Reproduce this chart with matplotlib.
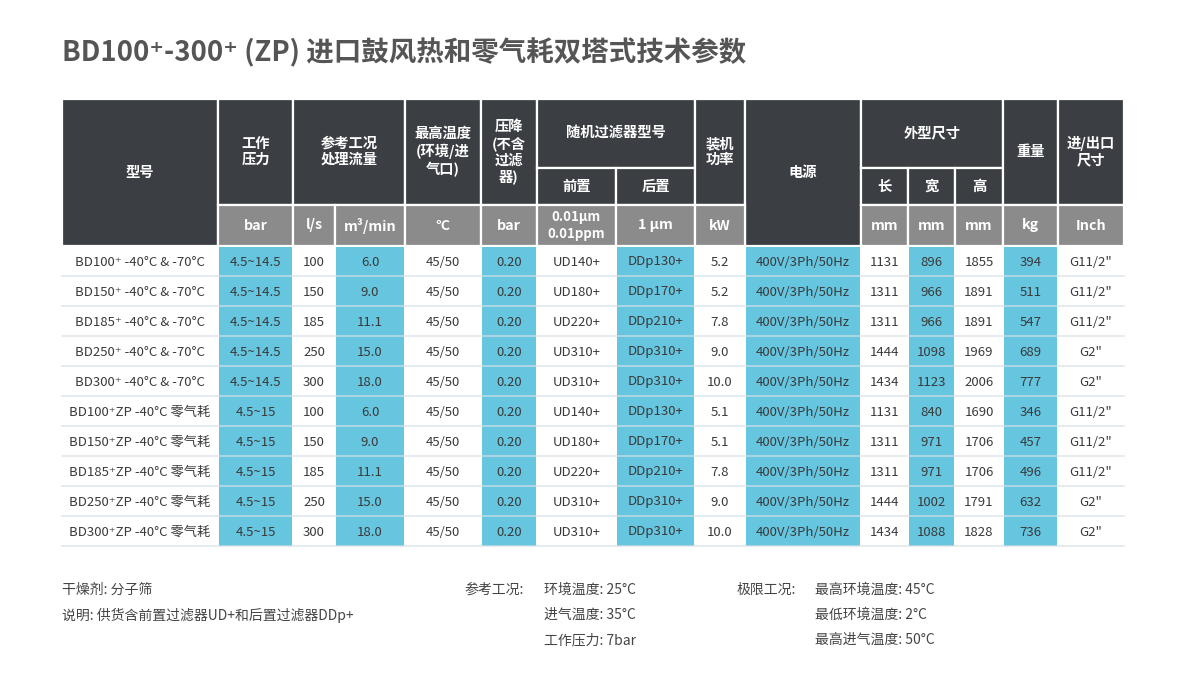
import matplotlib.pyplot as plt
from matplotlib.patches import Rectangle

plt.rcParams['font.family'] = ['Noto Sans CJK SC', 'DejaVu Sans']

TITLE = "BD100⁺-300⁺ (ZP) 进口鼓风热和零气耗双塔式技术参数"

models = ["BD100⁺ -40°C & -70°C", "BD150⁺ -40°C & -70°C", "BD185⁺ -40°C & -70°C",
          "BD250⁺ -40°C & -70°C", "BD300⁺ -40°C & -70°C",
          "BD100⁺ZP -40°C 零气耗", "BD150⁺ZP -40°C 零气耗", "BD185⁺ZP -40°C 零气耗",
          "BD250⁺ZP -40°C 零气耗", "BD300⁺ZP -40°C 零气耗"]
pressure = ["4.5~14.5"] * 5 + ["4.5~15"] * 5
flow_ls = ["100", "150", "185", "250", "300"] * 2
flow_m3 = ["6.0", "9.0", "11.1", "15.0", "18.0"] * 2
max_temp = ["45/50"] * 10
pressure_drop = ["0.20"] * 10
pre_filter = ["UD140+", "UD180+", "UD220+", "UD310+", "UD310+"] * 2
post_filter = ["DDp130+", "DDp170+", "DDp210+", "DDp310+", "DDp310+"] * 2
power = ["5.2", "5.2", "7.8", "9.0", "10.0", "5.1", "5.1", "7.8", "9.0", "10.0"]
supply = ["400V/3Ph/50Hz"] * 10
length = ["1131", "1311", "1311", "1444", "1434", "1131", "1311", "1311", "1444", "1434"]
width = ["896", "966", "966", "1098", "1123", "840", "971", "971", "1002", "1088"]
height = ["1855", "1891", "1891", "1969", "2006", "1690", "1706", "1706", "1791", "1828"]
weight = ["394", "511", "547", "689", "777", "346", "457", "496", "632", "736"]
port = ["G11/2\"", "G11/2\"", "G11/2\"", "G2\"", "G2\"",
        "G11/2\"", "G11/2\"", "G11/2\"", "G2\"", "G2\""]

columns = [models, pressure, flow_ls, flow_m3, max_temp, pressure_drop, pre_filter,
           post_filter, power, supply, length, width, height, weight, port]
units = [None, "bar", "l/s", "m³/min", "°C", "bar", "0.01µm\n0.01ppm", "1 µm", "kW",
         None, "mm", "mm", "mm", "kg", "Inch"]
highlight = [False, True, False, True, False, True, False, True, False, True,
             False, True, False, True, False]

notes_left = ["干燥剂: 分子筛", "说明: 供货含前置过滤器UD+和后置过滤器DDp+"]
ref_label = "参考工况:"
ref_items = ["环境温度: 25°C", "进气温度: 35°C", "工作压力: 7bar"]
lim_label = "极限工况:"
lim_items = ["最高环境温度: 45°C", "最低环境温度: 2°C", "最高进气温度: 50°C"]

# layout (pixels)
edges = [62, 218, 293, 335, 405, 481, 537, 616, 695, 745, 861, 908, 955, 1003, 1058, 1124]
y_top, y_sub, y_unit, y_data = 99, 168, 205, 246
row_h = 30

DARK = "#3b3e43"
GREY = "#8b8b8b"
BLUE = "#66c5df"
TXT = "#3a3a3a"

fig = plt.figure(figsize=(11.8, 6.88), dpi=100)
ax = fig.add_axes([0, 0, 1, 1])
ax.set_xlim(0, 1180)
ax.set_ylim(688, 0)
ax.axis("off")


def cell(x0, x1, y0, y1, color, text=None, size=10.3, weight="bold", tcolor="white"):
    ax.add_patch(Rectangle((x0, y0), x1 - x0, y1 - y0, facecolor=color,
                           edgecolor="white", linewidth=1.6))
    if text:
        ax.text((x0 + x1) / 2, (y0 + y1) / 2, text, ha="center", va="center",
                fontsize=size, fontweight=weight, color=tcolor, linespacing=1.2)


ax.text(62, 53, TITLE, fontsize=19.8, fontweight="bold", color="#555555",
        ha="left", va="center")

# header
e = edges
cell(e[0], e[1], y_top, y_data, DARK, "型号")
cell(e[1], e[2], y_top, y_unit, DARK, "工作\n压力")
cell(e[2], e[4], y_top, y_unit, DARK, "参考工况\n处理流量")
cell(e[4], e[5], y_top, y_unit, DARK, "最高温度\n(环境/进\n气口)")
cell(e[5], e[6], y_top, y_unit, DARK, "压降\n(不含\n过滤\n器)")
cell(e[6], e[8], y_top, y_sub, DARK, "随机过滤器型号")
cell(e[6], e[7], y_sub, y_unit, DARK, "前置")
cell(e[7], e[8], y_sub, y_unit, DARK, "后置")
cell(e[8], e[9], y_top, y_unit, DARK, "装机\n功率")
cell(e[9], e[10], y_top, y_data, DARK, "电源")
cell(e[10], e[13], y_top, y_sub, DARK, "外型尺寸")
cell(e[10], e[11], y_sub, y_unit, DARK, "长")
cell(e[11], e[12], y_sub, y_unit, DARK, "宽")
cell(e[12], e[13], y_sub, y_unit, DARK, "高")
cell(e[13], e[14], y_top, y_unit, DARK, "重量")
cell(e[14], e[15], y_top, y_unit, DARK, "进/出口\n尺寸")

for i, u in enumerate(units):
    if u is not None:
        cell(e[i], e[i + 1], y_unit, y_data, GREY, u, size=10.3 if "\n" not in u else 9.5)

# data body
n_rows = len(models)
y_end = y_data + n_rows * row_h
for i, col in enumerate(columns):
    if highlight[i]:
        ax.add_patch(Rectangle((e[i] + 1, y_data + 1), e[i + 1] - e[i] - 2,
                               y_end - y_data - 1, facecolor=BLUE, edgecolor="none"))
    for r, val in enumerate(col):
        ax.text((e[i] + e[i + 1]) / 2, y_data + (r + 0.5) * row_h + 1, val,
                ha="center", va="center", fontsize=9.5, color=TXT)

for r in range(1, n_rows + 1):
    y = y_data + r * row_h
    ax.plot([e[0], e[-1]], [y, y], color="#d6e0e4", linewidth=1.2, alpha=0.75)

# notes
note_kw = dict(fontsize=10, color="#444444", va="center")
for k, t in enumerate(notes_left):
    ax.text(62, 590 + k * 25, t, ha="left", **note_kw)
ax.text(464, 590, ref_label, ha="left", **note_kw)
for k, t in enumerate(ref_items):
    ax.text(544, 590 + k * 25, t, ha="left", **note_kw)
ax.text(737, 590, lim_label, ha="left", **note_kw)
for k, t in enumerate(lim_items):
    ax.text(815, 590 + k * 25, t, ha="left", **note_kw)

fig.savefig("out.png", dpi=100, facecolor="white")
